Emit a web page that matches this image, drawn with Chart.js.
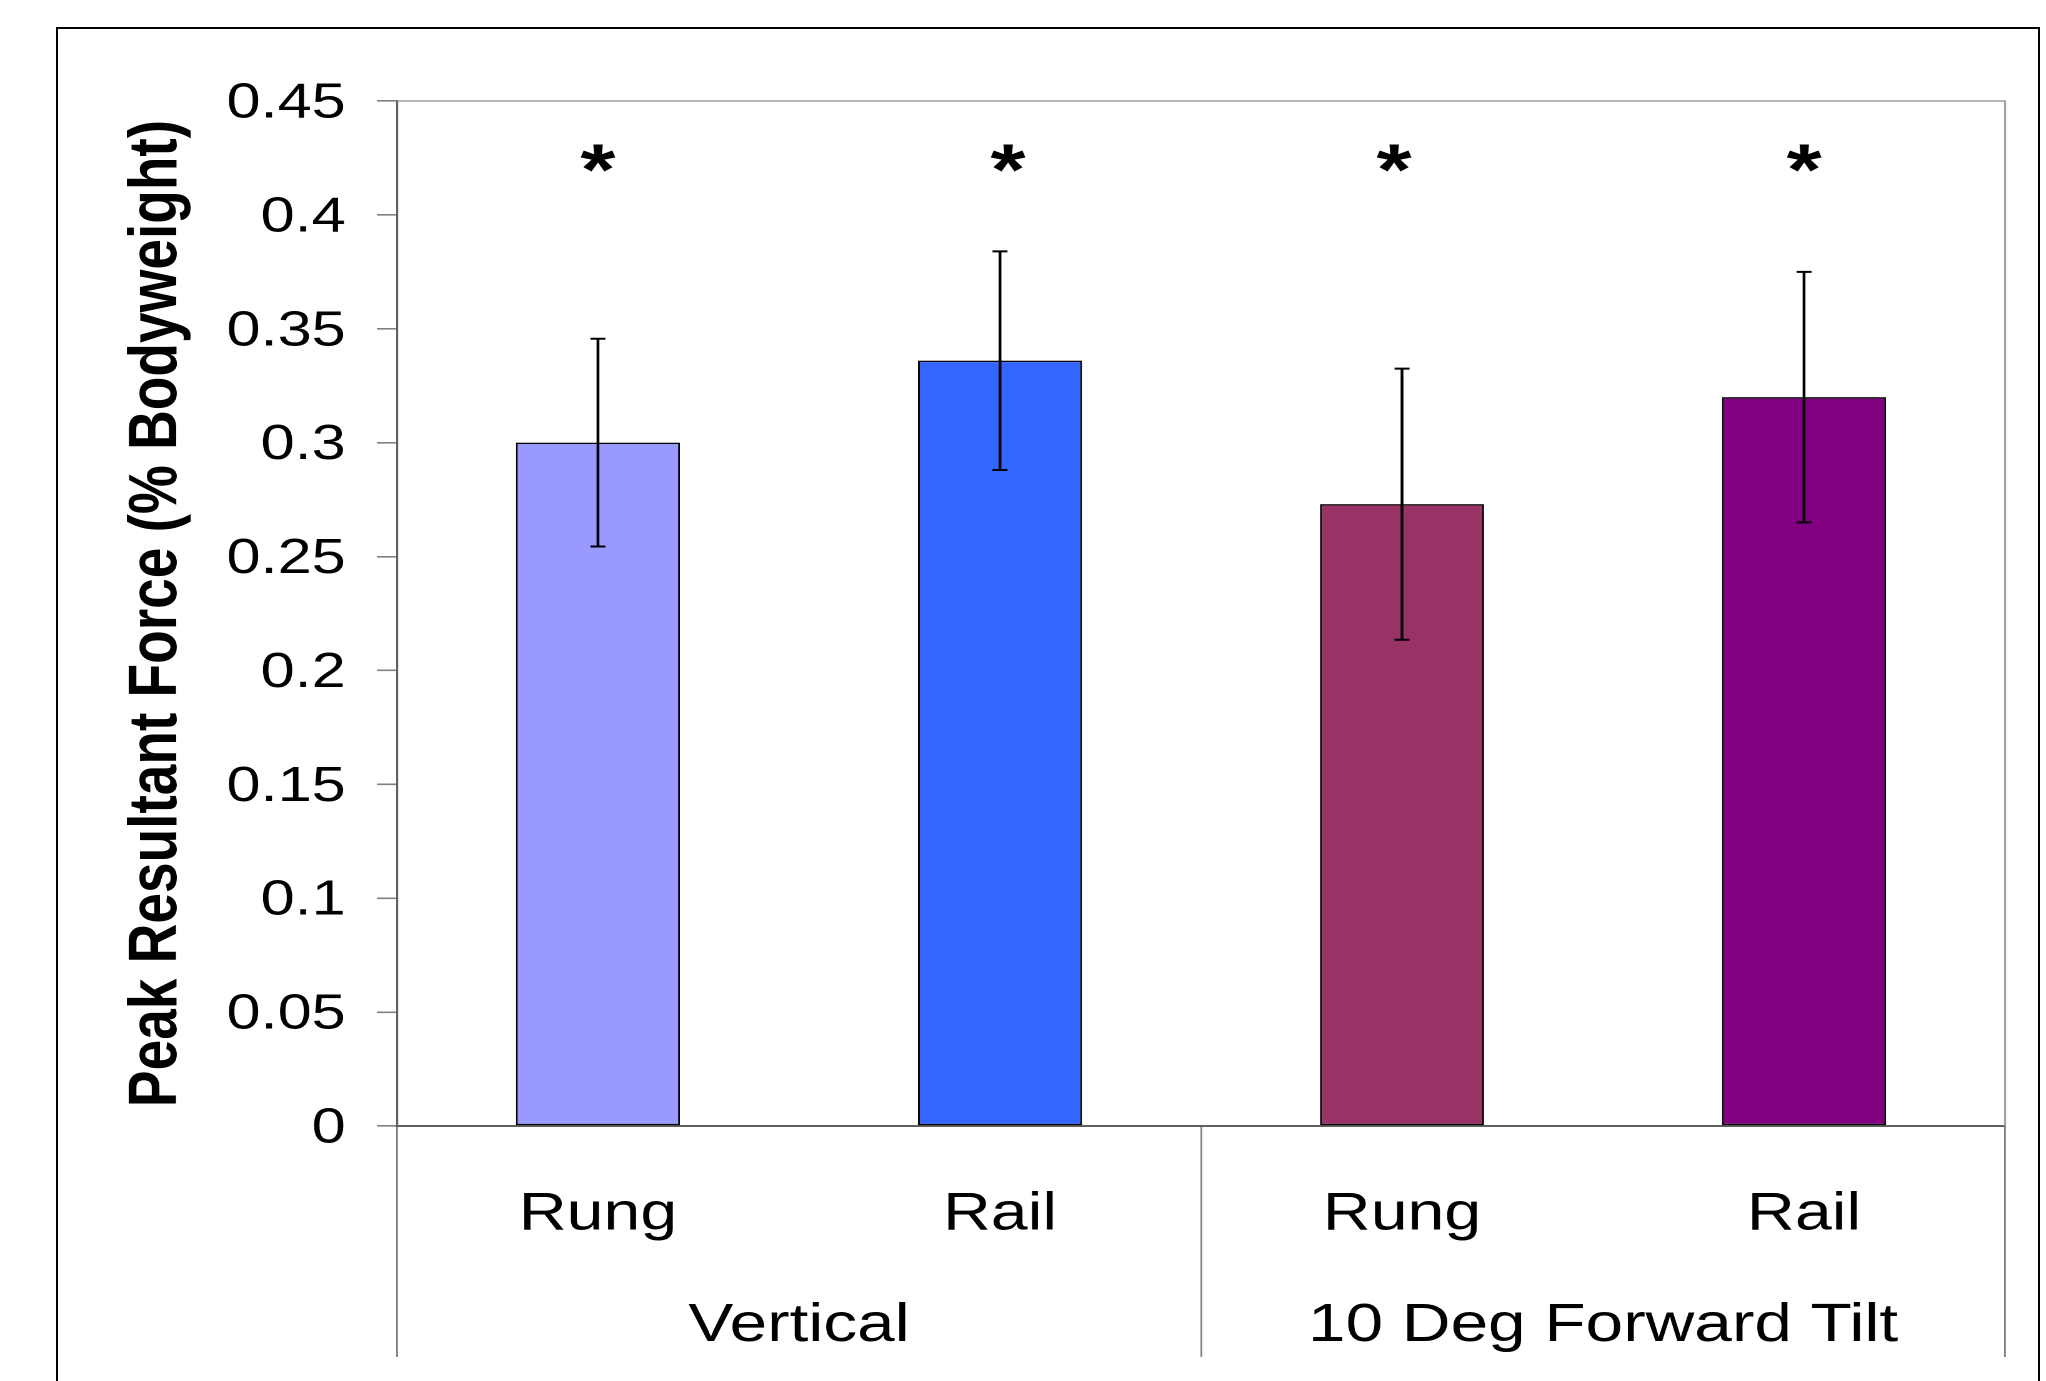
<!DOCTYPE html>
<html>
<head>
<meta charset="utf-8">
<script src="https://cdn.jsdelivr.net/npm/chart.js@4/dist/chart.umd.min.js"></script>
<style>
  html, body { margin: 0; padding: 0; background: #ffffff; }
  #wrap { position: relative; width: 2046px; height: 1381px; overflow: hidden; background: #ffffff; }
  #c { position: absolute; left: 0; top: 0; transform: scaleX(1.2498); transform-origin: 0 0; }
  #frame { position: absolute; left: 56px; top: 27px; width: 1984px; height: 1400px; border: 2px solid #000; box-sizing: border-box; pointer-events: none; }
</style>
</head>
<body>
<div id="wrap">
  <canvas id="c" width="1637" height="1381"></canvas>
  <div id="frame"></div>
</div>
<script>
// ---- data ----
const categories = ['Rung', 'Rail', 'Rung', 'Rail'];
const groupLabels = ['Vertical', '10 Deg Forward Tilt'];
const meanForce = [0.300, 0.336, 0.273, 0.320];
const errForce = [0.0456, 0.048, 0.0595, 0.055];
const barColors = ['#9999FF', '#3366FF', '#993366', '#800080'];
const yTickLabels = ['0', '0.05', '0.1', '0.15', '0.2', '0.25', '0.3', '0.35', '0.4', '0.45'];
const starLabels = ['*', '*', '*', '*'];
const starX = [0, 1.02, 1.98, 3];
const starLevel = 0.424;
const yTitle = 'Peak Resultant Force (% Bodyweight)';

const FONT = "'Liberation Sans', Arial, Helvetica, sans-serif";

const errRange = meanForce.map((v, i) => [v - errForce[i], v + errForce[i]]);
const errHigh = meanForce.map((v, i) => v + errForce[i]);
const errLow = meanForce.map((v, i) => v - errForce[i]);

const decor = {
  id: 'decor',
  beforeDraw(chart) {
    const ctx = chart.ctx;
    ctx.save();
    ctx.fillStyle = '#ffffff';
    ctx.fillRect(0, 0, chart.width, chart.height);
    ctx.restore();
  },
  afterDatasetsDraw(chart) {
    const { ctx, chartArea } = chart;
    ctx.save();
    ctx.strokeStyle = '#a0a0a0';
    ctx.lineWidth = 1.6;
    ctx.beginPath();
    ctx.moveTo(chartArea.left, chartArea.top);
    ctx.lineTo(chartArea.right, chartArea.top);
    ctx.lineTo(chartArea.right, chartArea.bottom);
    ctx.stroke();
    // significance markers
    const xs = chart.scales.x, ys = chart.scales.y;
    const size = 72;
    ctx.fillStyle = '#000';
    ctx.font = 'bold ' + size + 'px ' + FONT;
    ctx.textAlign = 'center';
    ctx.textBaseline = 'middle';
    starLabels.forEach((s, i) => {
      ctx.fillText(s, xs.getPixelForValue(starX[i]), ys.getPixelForValue(starLevel) + size * 0.2);
    });
    ctx.restore();
  }
};

new Chart(document.getElementById('c'), {
  type: 'bar',
  data: {
    labels: categories,
    datasets: [
      {
        type: 'line',
        data: errHigh,
        showLine: false,
        pointStyle: 'line',
        pointRadius: 6,
        pointHoverRadius: 6,
        pointBorderWidth: 2,
        borderColor: '#000',
        backgroundColor: '#000',
        order: 0
      },
      {
        type: 'line',
        data: errLow,
        showLine: false,
        pointStyle: 'line',
        pointRadius: 6,
        pointHoverRadius: 6,
        pointBorderWidth: 2,
        borderColor: '#000',
        backgroundColor: '#000',
        order: 0
      },
      {
        data: errRange,
        backgroundColor: '#000',
        borderWidth: 0,
        barThickness: 1.6,
        grouped: false,
        order: 1
      },
      {
        data: meanForce,
        backgroundColor: barColors,
        borderColor: '#000',
        borderWidth: 1.5,
        borderSkipped: false,
        barPercentage: 0.408,
        categoryPercentage: 1,
        grouped: false,
        order: 2
      }
    ]
  },
  options: {
    responsive: false,
    animation: false,
    devicePixelRatio: 2,
    layout: { padding: { left: 0, right: 32.7, top: 101, bottom: 0 } },
    plugins: { legend: { display: false }, tooltip: { enabled: false } },
    scales: {
      x: {
        type: 'category',
        position: 'bottom',
        weight: 0,
        offset: true,
        grid: {
          offset: true,
          drawOnChartArea: false,
          drawTicks: true,
          tickLength: 231,
          lineWidth: 1.4,
          color: (c) => (c.index === 1 || c.index === 3) ? 'rgba(0,0,0,0)' : '#808080'
        },
        border: { display: true, color: '#606060', width: 2 },
        ticks: {
          padding: -174,
          color: '#000',
          maxRotation: 0,
          autoSkip: false,
          font: { family: FONT, size: 53 }
        },
        afterFit: (s) => { s.height = 140; }
      },
      x2: {
        type: 'category',
        labels: groupLabels,
        position: 'bottom',
        weight: 1,
        offset: true,
        grid: { display: false, drawTicks: false },
        border: { display: false },
        ticks: {
          padding: 27.5,
          color: '#000',
          maxRotation: 0,
          autoSkip: false,
          font: { family: FONT, size: 54 }
        },
        afterFit: (s) => { s.height = 115; }
      },
      y: {
        min: 0,
        max: 0.45,
        ticks: {
          stepSize: 0.05,
          callback: (v, i) => yTickLabels[i],
          padding: 25,
          labelOffset: 3,
          color: '#000',
          font: { family: FONT, size: 49 }
        },
        grid: {
          drawOnChartArea: false,
          drawTicks: true,
          tickLength: 16,
          color: '#808080',
          lineWidth: 1.6
        },
        border: { display: true, color: '#606060', width: 1.6 },
        title: {
          display: true,
          text: yTitle,
          color: '#000',
          font: { family: FONT, size: 55, weight: 'bold' },
          padding: { top: 93, bottom: 0 }
        },
        afterFit: (s) => { s.width = 317.6; }
      }
    }
  },
  plugins: [decor]
});
</script>
</body>
</html>
